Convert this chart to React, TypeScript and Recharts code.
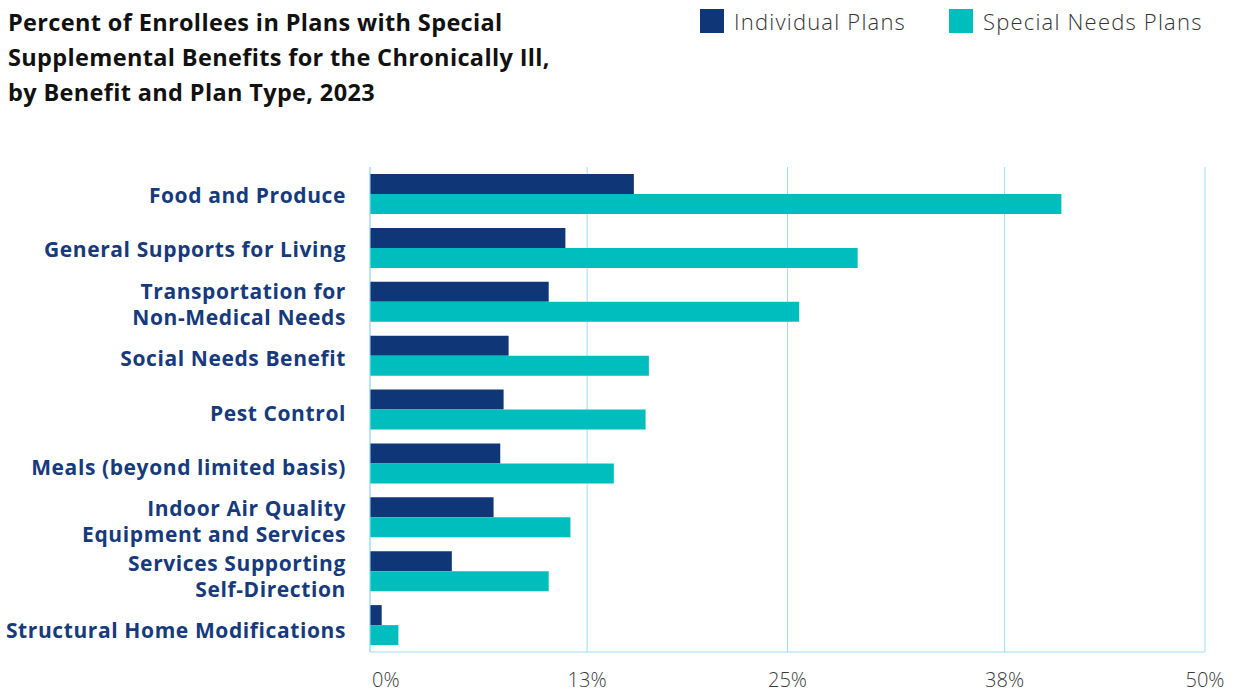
import { BarChart, Bar, XAxis, YAxis, CartesianGrid } from "recharts";

const categories = [
  "Food and Produce",
  "General Supports for Living",
  "Transportation for\nNon-Medical Needs",
  "Social Needs Benefit",
  "Pest Control",
  "Meals (beyond limited basis)",
  "Indoor Air Quality\nEquipment and Services",
  "Services Supporting\nSelf-Direction",
  "Structural Home Modifications",
];

const individualPlans = [15.8, 11.7, 10.7, 8.3, 8.0, 7.8, 7.4, 4.9, 0.7];
const specialNeedsPlans = [41.4, 29.2, 25.7, 16.7, 16.5, 14.6, 12.0, 10.7, 1.7];

const xTicks = [0, 13, 25, 38, 50];

const NAVY = "#0f3777";
const TEAL = "#00bebe";
const GRID = "#9fdcf6";
const FONT = "'Open Sans', 'Noto Sans', sans-serif";

const data = categories.map((name, i) => ({
  name,
  individual: individualPlans[i],
  special: specialNeedsPlans[i],
}));

// extra nudge for labels lower in the list (reference text drifts down a little)
function CategoryTick(props: any) {
  const { y, payload, index } = props;
  const lines: string[] = String(payload.value).split("\n");
  const lineH = 26;
  const startY = y + 3 + (index ?? 0) * 0.5 - ((lines.length - 1) * lineH) / 2;
  return (
    <text
      x={346}
      y={startY}
      textAnchor="end"
      dominantBaseline="middle"
      fill="#163a7c"
      fontSize={21}
      fontWeight={700}
      letterSpacing={0.6}
      fontFamily={FONT}
    >
      {lines.map((l, i) => (
        <tspan key={i} x={346} dy={i === 0 ? 0 : lineH}>
          {l}
        </tspan>
      ))}
    </text>
  );
}

function PercentTick(props: any) {
  const { x, y, payload } = props;
  const first = payload.value === 0;
  return (
    <text
      x={first ? x + 2 : x}
      y={y + 27}
      textAnchor={first ? "start" : "middle"}
      fill="#3a3a3a"
      fontSize={20}
      fontWeight={300}
      fontFamily={FONT}
    >
      {payload.value}%
    </text>
  );
}

function LegendItem({ color, label, left }: { color: string; label: string; left: number }) {
  return (
    <div style={{ position: "absolute", left, top: 6, display: "flex", alignItems: "center" }}>
      <div style={{ width: 24, height: 24, background: color }} />
      <span
        style={{
          marginLeft: 10,
          fontSize: 22,
          fontWeight: 300,
          color: "#333",
          fontFamily: FONT,
          letterSpacing: 1.2,
        }}
      >
        {label}
      </span>
    </div>
  );
}

export default function App() {
  return (
    <div
      style={{
        position: "absolute",
        left: 0,
        top: 0,
        width: 1233,
        height: 694,
        background: "#fff",
        overflow: "hidden",
      }}
    >
      <div
        style={{
          position: "absolute",
          left: 8,
          top: 5,
          fontFamily: FONT,
          fontWeight: 700,
          fontSize: 23.5,
          lineHeight: "35px",
          letterSpacing: 0.35,
          color: "#111",
        }}
      >
        Percent of Enrollees in Plans with Special
        <br />
        Supplemental Benefits for the Chronically Ill,
        <br />
        by Benefit and Plan Type, 2023
      </div>

      <LegendItem color={NAVY} label="Individual Plans" left={700} />
      <LegendItem color={TEAL} label="Special Needs Plans" left={949} />

      <div style={{ position: "absolute", left: 0, top: 0 }}>
        <BarChart
          width={1233}
          height={694}
          data={data}
          layout="vertical"
          margin={{ top: 167, right: 28, bottom: 0, left: 0 }}
          barGap={0}
          barSize={20}
        >
          <CartesianGrid horizontal={false} vertical stroke={GRID} strokeWidth={1} />
          <XAxis
            type="number"
            domain={[0, 50]}
            ticks={xTicks}
            height={42}
            axisLine={{ stroke: GRID }}
            tickLine={false}
            tick={<PercentTick />}
            interval={0}
          />
          <YAxis
            type="category"
            dataKey="name"
            width={370}
            axisLine={{ stroke: GRID }}
            tickLine={false}
            tick={<CategoryTick />}
            interval={0}
          />
          <Bar dataKey="individual" fill={NAVY} isAnimationActive={false} />
          <Bar dataKey="special" fill={TEAL} isAnimationActive={false} />
        </BarChart>
      </div>
    </div>
  );
}
